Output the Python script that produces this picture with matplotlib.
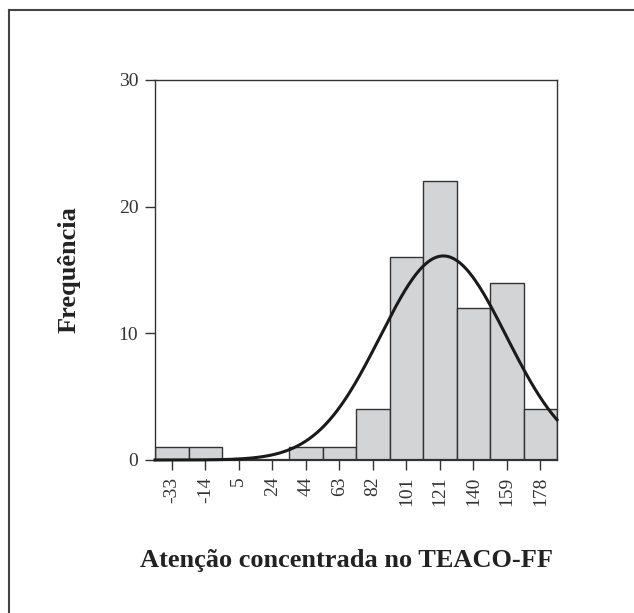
import numpy as np
import matplotlib.pyplot as plt
from matplotlib.lines import Line2D

# histogram data
tick_labels = ["-33", "-14", "5", "24", "44", "63", "82", "101", "121", "140", "159", "178"]
counts = [1, 1, 0, 0, 1, 1, 4, 16, 22, 12, 14, 4]
first_center = -33.0
bin_width = 19.18
# fitted normal curve (estimated)
curve_mean = 122.5
curve_sd = 36.1

plt.rcParams['font.family'] = ['Liberation Serif', 'DejaVu Serif']

centers = first_center + bin_width * np.arange(len(counts))
left_edge = centers[0] - bin_width / 2
right_edge = centers[-1] + bin_width / 2

fig = plt.figure(figsize=(6.34, 6.13), dpi=100)
ax = fig.add_axes([155 / 634, 1 - 460 / 613, (557 - 155) / 634, 380 / 613])

ax.bar(centers, counts, width=bin_width, color="#d3d4d6", edgecolor="#333333",
       linewidth=1.0, zorder=2)

n_total = sum(counts)
xs = np.linspace(left_edge, right_edge, 400)
ys = n_total * bin_width / (curve_sd * np.sqrt(2 * np.pi)) * np.exp(-0.5 * ((xs - curve_mean) / curve_sd) ** 2)
ax.plot(xs, ys, color="#1a1a1a", linewidth=2.2, zorder=3, clip_on=False)

ax.set_xlim(left_edge, right_edge)
ax.set_ylim(0, 30)
ax.set_yticks([0, 10, 20, 30])
ax.set_xticks(centers)
ax.set_xticklabels(tick_labels, rotation=90)

for s in ax.spines.values():
    s.set_color("#333333")
    s.set_linewidth(1.0)
ax.spines['bottom'].set_linewidth(1.6)

ax.tick_params(axis='both', colors="#333333", labelcolor="#333333", labelsize=14,
               length=7, width=1.0, direction='out')
ax.tick_params(axis='y', pad=5)
ax.tick_params(axis='x', pad=5)

ax.set_ylabel("Frequência", fontsize=19, fontweight='bold', color="#222222", va='center')
ax.yaxis.set_label_coords((69 - 155) / 402, 0.5)
ax.set_xlabel("Atenção concentrada no TEACO-FF", fontsize=19, fontweight='bold',
              color="#222222", va='center')
ax.xaxis.set_label_coords((347 - 155) / 402, (460 - 560) / 380)

# frame around the figure (only top and left visible)
fig.add_artist(Line2D([9 / 634, 9 / 634], [0, 1 - 10 / 613], transform=fig.transFigure,
                      color="#444444", linewidth=1.5))
fig.add_artist(Line2D([9 / 634, 1], [1 - 10 / 613, 1 - 10 / 613], transform=fig.transFigure,
                      color="#444444", linewidth=1.5))

fig.savefig("out.png", dpi=100)
